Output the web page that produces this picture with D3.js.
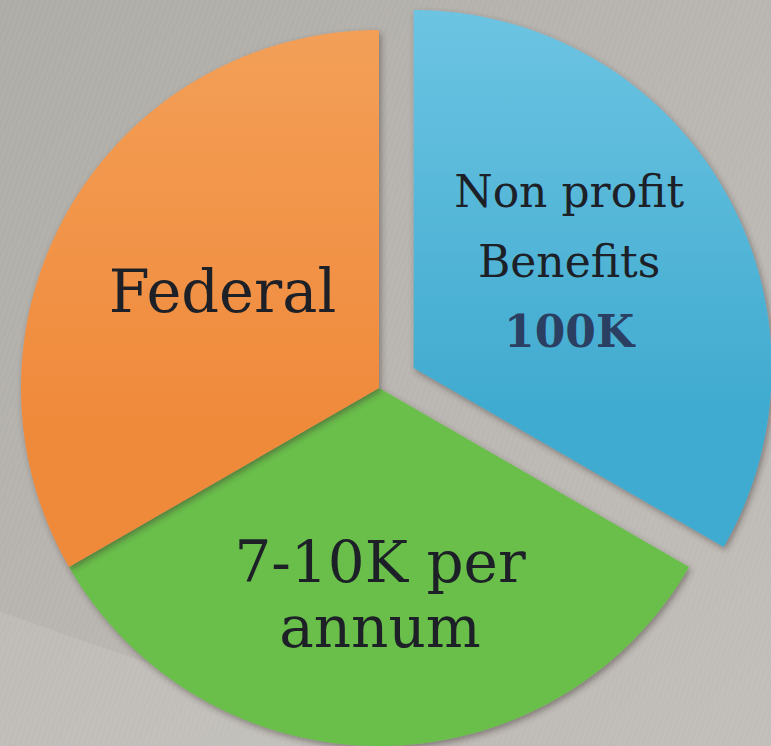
<!DOCTYPE html>
<html>
<head>
<meta charset="utf-8">
<script src="https://cdn.jsdelivr.net/npm/d3@7"></script>
<style>
  html, body { margin: 0; padding: 0; background: #b7b4af; }
  svg { display: block; }
</style>
</head>
<body>
<div id="chart"></div>
<script>
// slice data (equal thirds, clockwise from 12 o'clock)
var categories = ["Non profit Benefits", "7-10K per annum", "Federal"];
var values = [1, 1, 1];
var labelLines = [["Non profit", "Benefits", "100K"], ["7-10K per", "annum"], ["Federal"]];
var boldLines = [[false, false, true], [false, false], [false]];
var exploded = [true, false, false];

var width = 771, height = 746;
var cx = 379, cy = 388, radius = 358;

var colors = d3.scaleOrdinal()
  .domain(categories)
  .range(["#41abd0", "#6abf4b", "#f08a3b"]);
var topColors = d3.scaleOrdinal()
  .domain(categories)
  .range(["#6cc4e2", "#7ac65b", "#f39f57"]);

var svg = d3.select("#chart")
  .append("svg")
  .attr("width", width)
  .attr("height", height);

var defs = svg.append("defs");

// background gradient
var bg = defs.append("linearGradient")
  .attr("id", "bg")
  .attr("x1", 0).attr("y1", 0).attr("x2", 1).attr("y2", 1);
bg.append("stop").attr("offset", "0%").attr("stop-color", "#aeaca7");
bg.append("stop").attr("offset", "55%").attr("stop-color", "#bab7b2");
bg.append("stop").attr("offset", "100%").attr("stop-color", "#c2bfba");

// fine fabric-like stripes
var pat = defs.append("pattern")
  .attr("id", "stripes")
  .attr("patternUnits", "userSpaceOnUse")
  .attr("width", 5).attr("height", 5)
  .attr("patternTransform", "rotate(-70)");
pat.append("line")
  .attr("x1", 0).attr("y1", 0).attr("x2", 5).attr("y2", 0)
  .attr("stroke", "#ffffff").attr("stroke-opacity", 0.07).attr("stroke-width", 1.5);

var shadow = defs.append("filter")
  .attr("id", "shadow")
  .attr("x", "-10%").attr("y", "-10%").attr("width", "120%").attr("height", "120%");
shadow.append("feDropShadow")
  .attr("dx", 2).attr("dy", 3).attr("stdDeviation", 3)
  .attr("flood-color", "#3a2a2a").attr("flood-opacity", 0.45);

svg.append("rect")
  .attr("width", width).attr("height", height)
  .attr("fill", "url(#bg)");
svg.append("rect")
  .attr("width", width).attr("height", height)
  .attr("fill", "url(#stripes)");
// lighter diagonal band bottom-left
svg.append("path")
  .attr("d", "M0," + (height * 0.82) + " L" + (width * 0.5) + "," + height + " L0," + height + "Z")
  .attr("fill", "#ffffff").attr("fill-opacity", 0.1);

var pie = d3.pie().sort(null).value(function (d) { return d; });
var arcs = pie(values);

var arc = d3.arc().innerRadius(0).outerRadius(radius);
var labelArc = d3.arc().innerRadius(radius * 0.55).outerRadius(radius * 0.55);

var explodeDist = 40;
function offset(d, i) {
  if (!exploded[i]) return [0, 0];
  var a = (d.startAngle + d.endAngle) / 2;
  return [Math.sin(a) * explodeDist, -Math.cos(a) * explodeDist];
}

// one vertical gradient per slice, lighter at top
categories.forEach(function (c, i) {
  var g = defs.append("linearGradient")
    .attr("id", "grad" + i)
    .attr("gradientUnits", "userSpaceOnUse")
    .attr("x1", 0).attr("y1", -radius).attr("x2", 0).attr("y2", radius * 0.1);
  g.append("stop").attr("offset", "0%").attr("stop-color", topColors(c));
  g.append("stop").attr("offset", "100%").attr("stop-color", colors(c));
});

var g = svg.append("g")
  .attr("transform", "translate(" + cx + "," + cy + ")");

var slices = g.selectAll("g.slice")
  .data(arcs)
  .enter()
  .append("g")
  .attr("class", "slice")
  .attr("transform", function (d, i) {
    var o = offset(d, i);
    return "translate(" + o[0] + "," + o[1] + ")";
  });

slices.append("path")
  .attr("d", arc)
  .attr("fill", function (d, i) { return "url(#grad" + i + ")"; })
  .attr("filter", "url(#shadow)");

// label tweaks so text sits like the original
var labelShift = [[-15, -8], [1, 9], [14, 1]];
var fontSizes = [44, 58, 59];
var lineGaps = [70, 65, 0];

slices.each(function (d, i) {
  var c = labelArc.centroid(d);
  var n = labelLines[i].length;
  var x = c[0] + labelShift[i][0];
  var y = c[1] + labelShift[i][1];
  var t = d3.select(this).append("text")
    .attr("text-anchor", "middle")
    .attr("font-family", "'DejaVu Serif', serif")
    .attr("font-size", fontSizes[i])
    .attr("fill", "#1d2127");
  labelLines[i].forEach(function (line, j) {
    t.append("tspan")
      .attr("x", x)
      .attr("y", y + (j - (n - 1) / 2) * lineGaps[i] + fontSizes[i] * 0.36)
      .attr("font-weight", boldLines[i][j] ? "bold" : "normal")
      .attr("fill", boldLines[i][j] ? "#2b3f63" : "#1d2127")
      .text(line);
  });
});
</script>
</body>
</html>
